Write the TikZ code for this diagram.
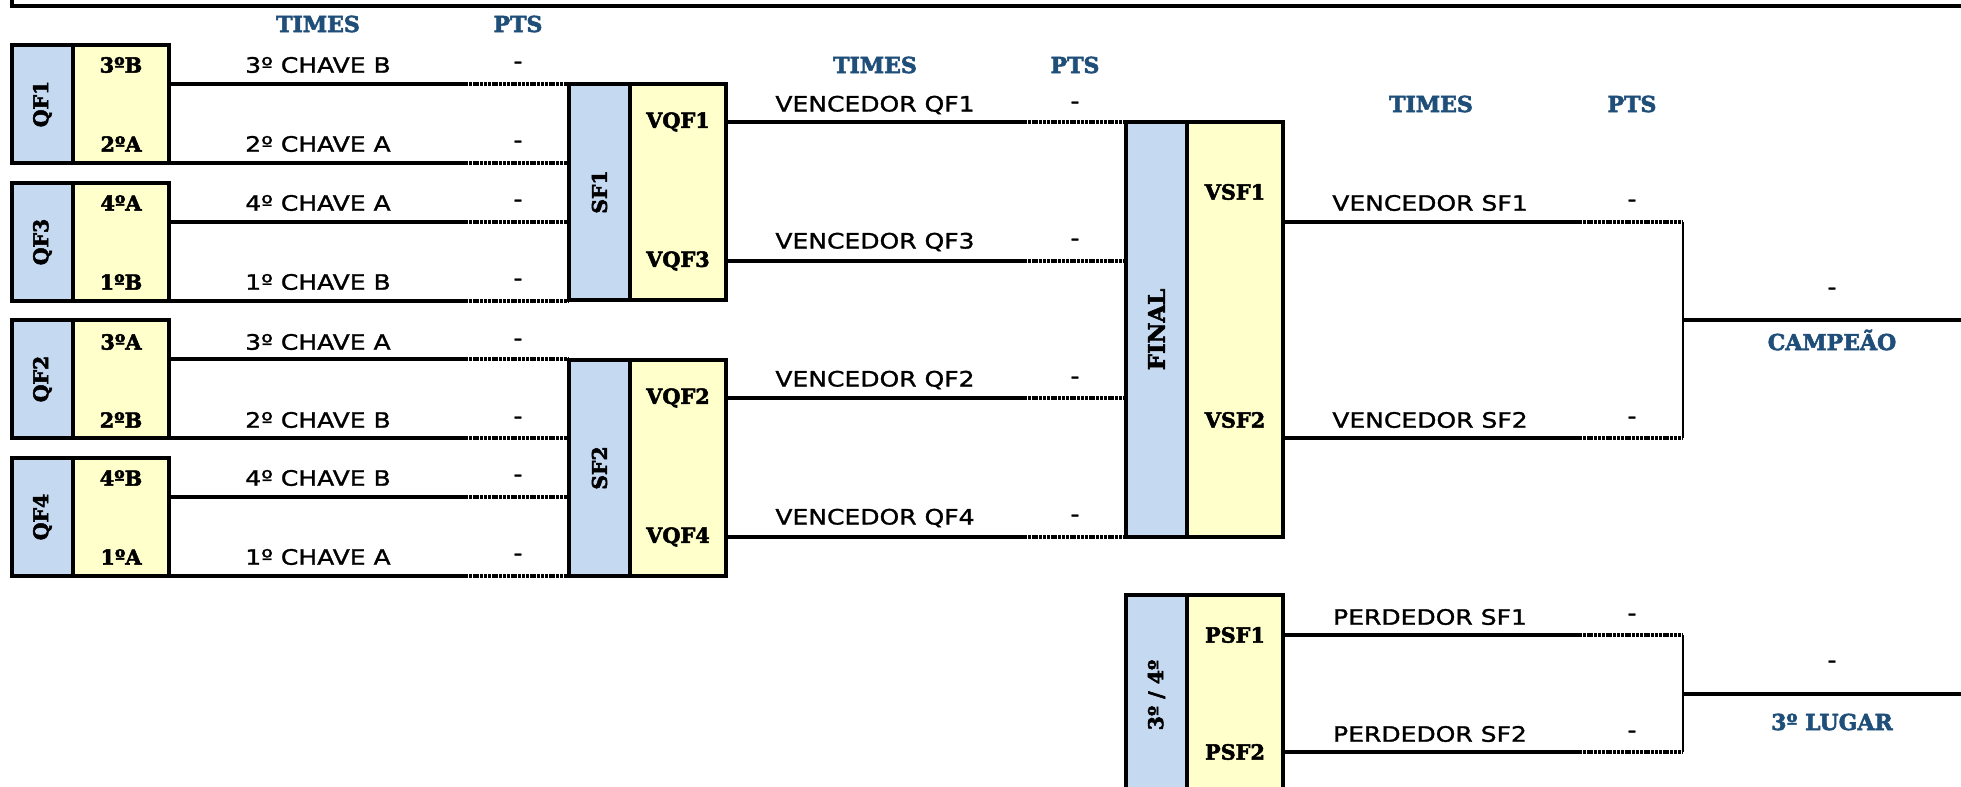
\documentclass[tikz,border=0pt]{standalone}
\usepackage{fontspec}
\setmainfont{DejaVu Sans}
\newfontfamily\heavyfont[BoldFeatures={FakeBold=2.5}]{DejaVu Serif}
\newfontfamily\teamfont[FakeStretch=1.18, FakeBold=1.3]{DejaVu Sans}
\usetikzlibrary{positioning}
\definecolor{sideblue}{HTML}{C5D9F1}
\definecolor{slotyellow}{HTML}{FFFFCC}
\definecolor{headblue}{HTML}{1F4E79}

\begin{document}
\begin{tikzpicture}[
    x=0.5pt, y=-0.5pt,
    side/.style={draw, fill=sideblue, line width=1.6pt, inner sep=0pt, outer sep=0pt, minimum width=30.5pt, anchor=north west, font=\heavyfont\bfseries\fontsize{10.2}{12}\selectfont},
    slot/.style={draw, fill=slotyellow, line width=1.6pt, inner sep=0pt, outer sep=0pt, minimum width=48pt, anchor=north west},
    qf/.style={minimum height=59pt},
    sf/.style={minimum height=108pt},
    tag/.style={font=\heavyfont\bfseries\fontsize{10.4}{12}\selectfont, inner sep=0pt},
    team/.style={font=\teamfont\fontsize{10.6}{12}\selectfont, inner sep=0pt},
    head/.style={text=headblue, font=\heavyfont\bfseries\fontsize{11}{13}\selectfont, inner sep=0pt},
    wire/.style={line width=1.6pt},
    dotwire/.style={line width=1.6pt, dash pattern=on 1.5pt off 0.4pt},
    joint/.style={line width=1.3pt}
  ]
  \useasboundingbox (0,0) rectangle (1961,787);

  % moldura
  \draw[line width=2pt] (12,-10) -- (12,6) -- (1975,6);

  % cabecalhos
  \node[head] (h1t) at (318,24) {TIMES};
  \node[head] (h1p) at (518,24) {PTS};
  \node[head] (h2t) at (875,65) {TIMES};
  \node[head] (h2p) at (1075,65) {PTS};
  \node[head] (h3t) at (1431,104) {TIMES};
  \node[head] (h3p) at (1632,104) {PTS};

  % quartas de final
  \node[side, qf] (qf1b) at (12,45) {\rotatebox{90}{QF1}};
  \node[slot, qf] (qf1y) at (qf1b.north east) {};
  \node[side, qf] (qf3b) at (12,183) {\rotatebox{90}{QF3}};
  \node[slot, qf] (qf3y) at (qf3b.north east) {};
  \node[side, qf] (qf2b) at (12,320) {\rotatebox{90}{QF2}};
  \node[slot, qf] (qf2y) at (qf2b.north east) {};
  \node[side, qf] (qf4b) at (12,458) {\rotatebox{90}{QF4}};
  \node[slot, qf] (qf4y) at (qf4b.north east) {};

  \node[tag] (qf1t) at (121,65) {3ºB};
  \node[tag] (qf1u) at (121,144) {2ºA};
  \node[tag] (qf3t) at (121,203) {4ºA};
  \node[tag] (qf3u) at (121,282) {1ºB};
  \node[tag] (qf2t) at (121,342) {3ºA};
  \node[tag] (qf2u) at (121,420) {2ºB};
  \node[tag] (qf4t) at (121,478) {4ºB};
  \node[tag] (qf4u) at (121,557) {1ºA};

  \node[team] (c1) at (318,65) {3º CHAVE B};   \node[team] (p1) at (518,65) {-};
  \node[team] (c2) at (318,144) {2º CHAVE A};  \node[team] (p2) at (518,144) {-};
  \node[team] (c3) at (318,203) {4º CHAVE A};  \node[team] (p3) at (518,203) {-};
  \node[team] (c4) at (318,282) {1º CHAVE B};  \node[team] (p4) at (518,282) {-};
  \node[team] (c5) at (318,342) {3º CHAVE A};  \node[team] (p5) at (518,342) {-};
  \node[team] (c6) at (318,420) {2º CHAVE B};  \node[team] (p6) at (518,420) {-};
  \node[team] (c7) at (318,478) {4º CHAVE B};  \node[team] (p7) at (518,478) {-};
  \node[team] (c8) at (318,557) {1º CHAVE A};  \node[team] (p8) at (518,557) {-};

  % semifinais
  \node[side, sf] (sf1b) at (569,84) {\rotatebox{90}{SF1}};
  \node[slot, sf] (sf1y) at (sf1b.north east) {};
  \node[side, sf] (sf2b) at (569,360) {\rotatebox{90}{SF2}};
  \node[slot, sf] (sf2y) at (sf2b.north east) {};

  \coordinate (s1) at (465,0);
  \coordinate (s2) at (1024,0);
  \coordinate (s3) at (1579,0);
  \coordinate (j) at (1683,0);
  \coordinate (qf1w) at ([yshift=-19.5pt]qf1y.north east);
  \coordinate (qf3w) at ([yshift=-19.5pt]qf3y.north east);
  \coordinate (qf2w) at ([yshift=-19.5pt]qf2y.north east);
  \coordinate (qf4w) at ([yshift=-19.5pt]qf4y.north east);
  \coordinate (sf1a) at ([yshift=-19pt]sf1y.north east);
  \coordinate (sf1c) at ([yshift=-88.5pt]sf1y.north east);
  \coordinate (sf2a) at ([yshift=-19pt]sf2y.north east);
  \coordinate (sf2c) at ([yshift=-88.5pt]sf2y.north east);

  \draw[wire] (qf1w) -- (qf1w -| s1) edge[dotwire] (qf1w -| sf1b.west);
  \draw[wire] (qf1y.south east) -- (qf1y.south east -| s1) edge[dotwire] (qf1y.south east -| sf1b.west);
  \draw[wire] (qf3w) -- (qf3w -| s1) edge[dotwire] (qf3w -| sf1b.west);
  \draw[wire] (qf3y.south east) -- (qf3y.south east -| s1) edge[dotwire] (qf3y.south east -| sf1b.west);
  \draw[wire] (qf2w) -- (qf2w -| s1) edge[dotwire] (qf2w -| sf2b.west);
  \draw[wire] (qf2y.south east) -- (qf2y.south east -| s1) edge[dotwire] (qf2y.south east -| sf2b.west);
  \draw[wire] (qf4w) -- (qf4w -| s1) edge[dotwire] (qf4w -| sf2b.west);
  \draw[wire] (qf4y.south east) -- (qf4y.south east -| s1) edge[dotwire] (qf4y.south east -| sf2b.west);

  \node[tag] (vqf1) at (sf1a -| sf1y.center) {VQF1};
  \node[tag] (vqf3) at (sf1c -| sf1y.center) {VQF3};
  \node[tag] (vqf2) at (sf2a -| sf2y.center) {VQF2};
  \node[tag] (vqf4) at (sf2c -| sf2y.center) {VQF4};

  \node[team] (v1) at (875,105) {VENCEDOR QF1}; \node[team] (q1) at (1075,105) {-};
  \node[team] (v3) at (875,242) {VENCEDOR QF3}; \node[team] (q3) at (1075,242) {-};
  \node[team] (v2) at (875,380) {VENCEDOR QF2}; \node[team] (q2) at (1075,380) {-};
  \node[team] (v4) at (875,518) {VENCEDOR QF4}; \node[team] (q4) at (1075,518) {-};

  % final e 3o lugar
  \node[side, minimum height=207.5pt] (finb) at (1126,122) {\rotatebox{90}{\fontsize{11.4}{13}\selectfont FINAL}};
  \node[slot, minimum height=207.5pt] (finy) at (finb.north east) {};
  \node[side, minimum height=100pt] (thrb) at (1126,595) {\rotatebox{90}{3º / 4º}};
  \node[slot, minimum height=100pt] (thry) at (thrb.north east) {};

  \draw[wire] (sf1a) -- (sf1a -| s2) edge[dotwire] (sf1a -| finb.west);
  \draw[wire] (sf1c) -- (sf1c -| s2) edge[dotwire] (sf1c -| finb.west);
  \draw[wire] (sf2a) -- (sf2a -| s2) edge[dotwire] (sf2a -| finb.west);
  \draw[wire] (sf2c) -- (sf2c -| s2) edge[dotwire] (sf2c -| finb.west);

  \coordinate (fina) at ([yshift=-50pt]finy.north east);
  \coordinate (finc) at ([yshift=-158pt]finy.north east);
  \coordinate (thra) at ([yshift=-20pt]thry.north east);
  \coordinate (thrc) at ([yshift=-78.5pt]thry.north east);
  \coordinate (champ) at (1975,320);
  \coordinate (third) at (1975,694);

  \node[tag] (vsf1) at (1235,192) {VSF1};
  \node[tag] (vsf2) at (1235,420) {VSF2};
  \node[tag] (psf1) at (thra -| thry.center) {PSF1};
  \node[tag] (psf2) at (thrc -| thry.center) {PSF2};

  \node[team] (w1) at (1430,203) {VENCEDOR SF1}; \node[team] (x1) at (1632,203) {-};
  \node[team] (w2) at (1430,420) {VENCEDOR SF2}; \node[team] (x2) at (1632,420) {-};
  \node[team] (l1) at (1430,617) {PERDEDOR SF1}; \node[team] (y1) at (1632,617) {-};
  \node[team] (l2) at (1430,734) {PERDEDOR SF2}; \node[team] (y2) at (1632,734) {-};

  \draw[wire] (fina) -- (fina -| s3) edge[dotwire] (fina -| j);
  \draw[wire] (finc) -- (finc -| s3) edge[dotwire] (finc -| j);
  \draw[joint] (fina -| j) -- (finc -| j);
  \draw[wire] (champ -| j) -- (champ);
  \draw[wire] (thra) -- (thra -| s3) edge[dotwire] (thra -| j);
  \draw[wire] (thrc) -- (thrc -| s3) edge[dotwire] (thrc -| j);
  \draw[joint] (thra -| j) -- (thrc -| j);
  \draw[wire] (third -| j) -- (third);

  \node[team] (cp) at (1832,291) {-};
  \node[head] (campeao) at (1832,340) {CAMPEÃO};
  \node[team] (tp) at (1832,664) {-};
  \node[head] (lugar) at (1832,722) {3º LUGAR};
\end{tikzpicture}
\end{document}
